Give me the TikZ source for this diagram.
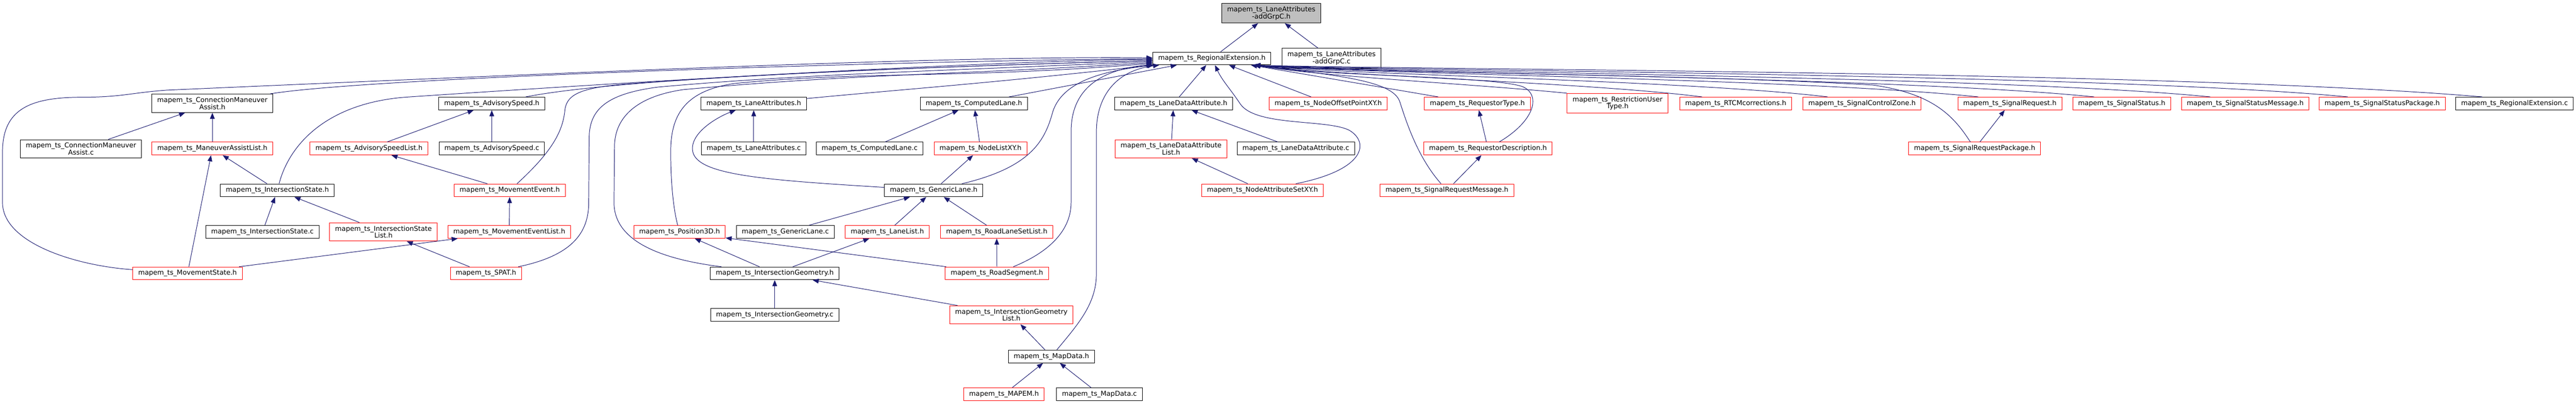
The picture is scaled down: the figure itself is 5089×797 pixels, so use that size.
\documentclass[tikz,border=0pt]{standalone}
\usepackage{fontspec}
\setmainfont{DejaVu Sans}
\usetikzlibrary{arrows.meta}
\definecolor{midnightblue}{RGB}{25,25,112}

\begin{document}
\begin{tikzpicture}[x=0.75pt, y=-0.75pt,
  file/.style={draw=black, fill=white, line width=0.75pt, inner xsep=8pt, inner ysep=4.5pt,
    minimum height=18.75pt, align=center, font=\fontsize{10}{10.5}\selectfont},
  trunc/.style={file, draw=red},
  focus/.style={file, fill=black!25},
  dep/.style={draw=midnightblue, line width=0.75pt, -{Triangle[length=9pt,width=7pt]}}]
  \useasboundingbox (0,0) rectangle (5089,797);

  \node[focus] (top) at (2511.5,26) {mapem\_ts\_LaneAttributes\\-addGrpC.h};
  \node[file] (regext) at (2394,115.5) {mapem\_ts\_RegionalExtension.h};
  \node[file] (addgrpcc) at (2630.5,115) {mapem\_ts\_LaneAttributes\\-addGrpC.c};

  \node[file] (cma) at (419.5,204) {mapem\_ts\_ConnectionManeuver\\Assist.h};
  \node[file] (advspeed) at (971.5,204.5) {mapem\_ts\_AdvisorySpeed.h};
  \node[file] (laneattr) at (1489,204.5) {mapem\_ts\_LaneAttributes.h};
  \node[file] (complane) at (1924,204.5) {mapem\_ts\_ComputedLane.h};
  \node[file] (lanedata) at (2318.5,204.5) {mapem\_ts\_LaneDataAttribute.h};
  \node[trunc] (nodeoffset) at (2624,204.5) {mapem\_ts\_NodeOffsetPointXY.h};
  \node[trunc] (reqtype) at (2918.5,204.5) {mapem\_ts\_RequestorType.h};
  \node[trunc] (restrict) at (3195.5,204) {mapem\_ts\_RestrictionUser\\Type.h};
  \node[trunc] (rtcm) at (3429,204.5) {mapem\_ts\_RTCMcorrections.h};
  \node[trunc] (sigctrl) at (3678.5,204.5) {mapem\_ts\_SignalControlZone.h};
  \node[trunc] (sigreq) at (3970.5,204.5) {mapem\_ts\_SignalRequest.h};
  \node[trunc] (sigstatus) at (4191.5,204.5) {mapem\_ts\_SignalStatus.h};
  \node[trunc] (sigstatmsg) at (4435.5,204.5) {mapem\_ts\_SignalStatusMessage.h};
  \node[trunc] (sigstatpkg) at (4706,204.5) {mapem\_ts\_SignalStatusPackage.h};
  \node[file] (regextc) at (4967.5,204.5) {mapem\_ts\_RegionalExtension.c};

  \node[file] (cmac) at (160,294) {mapem\_ts\_ConnectionManeuver\\Assist.c};
  \node[trunc] (malist) at (419.5,293.5) {mapem\_ts\_ManeuverAssistList.h};
  \node[trunc] (advlist) at (729,293.5) {mapem\_ts\_AdvisorySpeedList.h};
  \node[file] (advspeedc) at (971.5,293.5) {mapem\_ts\_AdvisorySpeed.c};
  \node[file] (laneattrc) at (1489,293.5) {mapem\_ts\_LaneAttributes.c};
  \node[file] (complanec) at (1718,293.5) {mapem\_ts\_ComputedLane.c};
  \node[trunc] (nodelist) at (1937,293.5) {mapem\_ts\_NodeListXY.h};
  \node[trunc] (lanedatalist) at (2313.5,294) {mapem\_ts\_LaneDataAttribute\\List.h};
  \node[file] (lanedatac) at (2560,293.5) {mapem\_ts\_LaneDataAttribute.c};
  \node[trunc] (reqdesc) at (2939.5,293.5) {mapem\_ts\_RequestorDescription.h};
  \node[trunc] (sigreqpkg) at (3901,293.5) {mapem\_ts\_SignalRequestPackage.h};

  \node[file] (isstate) at (548,376) {mapem\_ts\_IntersectionState.h};
  \node[trunc] (mvevent) at (1007,376) {mapem\_ts\_MovementEvent.h};
  \node[file] (genlane) at (1844.5,376) {mapem\_ts\_GenericLane.h};
  \node[trunc] (nodeattr) at (2494,376) {mapem\_ts\_NodeAttributeSetXY.h};
  \node[trunc] (sigreqmsg) at (2858.5,376) {mapem\_ts\_SignalRequestMessage.h};

  \node[file] (isstatec) at (518.5,458) {mapem\_ts\_IntersectionState.c};
  \node[trunc] (isstatelist) at (757.5,458) {mapem\_ts\_IntersectionState\\List.h};
  \node[trunc] (mveventlist) at (1006,458) {mapem\_ts\_MovementEventList.h};
  \node[trunc] (pos3d) at (1342.5,458) {mapem\_ts\_Position3D.h};
  \node[file] (genlanec) at (1551.5,458) {mapem\_ts\_GenericLane.c};
  \node[trunc] (lanelist) at (1753,458) {mapem\_ts\_LaneList.h};
  \node[trunc] (roadlaneset) at (1969,458) {mapem\_ts\_RoadLaneSetList.h};

  \node[trunc] (mvstate) at (370.5,540) {mapem\_ts\_MovementState.h};
  \node[trunc] (spat) at (960,540) {mapem\_ts\_SPAT.h};
  \node[file] (isgeom) at (1530.5,540) {mapem\_ts\_IntersectionGeometry.h};
  \node[trunc] (roadseg) at (1969.5,540) {mapem\_ts\_RoadSegment.h};

  \node[file] (isgeomc) at (1530.5,622) {mapem\_ts\_IntersectionGeometry.c};
  \node[trunc] (isgeomlist) at (1998,622) {mapem\_ts\_IntersectionGeometry\\List.h};

  \node[file] (mapdata) at (2077,704) {mapem\_ts\_MapData.h};
  \node[trunc] (mapem) at (1983.5,778.5) {mapem\_ts\_MAPEM.h};
  \node[file] (mapdatac) at (2172,778.5) {mapem\_ts\_MapData.c};

  \draw[dep] (regext) -- (top);
  \draw[dep] (addgrpcc) -- (top);
  \draw[dep] (cmac) -- (cma);
  \draw[dep] (malist) -- (cma);
  \draw[dep] (isstate) -- (malist);
  \draw[dep] (mvstate) -- (malist);
  \draw[dep] (isstatec) -- (isstate);
  \draw[dep] (isstatelist) -- (isstate);
  \draw[dep] (advspeedc) -- (advspeed);
  \draw[dep] (advlist) -- (advspeed);
  \draw[dep] (mvevent) -- (advlist);
  \draw[dep] (mveventlist) -- (mvevent);
  \draw[dep] (spat) -- (isstatelist);
  \draw[dep] (mvstate) -- (mveventlist);
  \draw[dep] (laneattrc) -- (laneattr);
  \draw[dep] (complanec) -- (complane);
  \draw[dep] (nodelist) -- (complane);
  \draw[dep] (genlane) -- (nodelist);
  \draw[dep] (genlanec) -- (genlane);
  \draw[dep] (lanelist) -- (genlane);
  \draw[dep] (roadlaneset) -- (genlane);
  \draw[dep] (lanedatalist) -- (lanedata);
  \draw[dep] (lanedatac) -- (lanedata);
  \draw[dep] (nodeattr) -- (lanedatalist);
  \draw[dep] (reqdesc) -- (reqtype);
  \draw[dep] (sigreqmsg) -- (reqdesc);
  \draw[dep] (sigreqpkg) -- (sigreq);
  \draw[dep] (roadseg) -- (roadlaneset);
  \draw[dep] (isgeom) -- (pos3d);
  \draw[dep] (roadseg) -- (pos3d);
  \draw[dep] (isgeom) -- (lanelist);
  \draw[dep] (isgeomc) -- (isgeom);
  \draw[dep] (isgeomlist) -- (isgeom);
  \draw[dep] (mapdata) -- (isgeomlist);
  \draw[dep] (mapem) -- (mapdata);
  \draw[dep] (mapdatac) -- (mapdata);
  \draw[dep] (genlane) .. controls (1500,355) and (1370,345) .. (1368,295)
    .. controls (1366,260) and (1420,230) .. (laneattr);

  \draw[dep] (mvstate) .. controls (150,525) and (5,480) .. (5,400) -- (5,300)
    .. controls (5,215) and (60,192) .. (163,192) .. controls (240,192) and (260,183) .. (330,178)
    .. controls (1200,140) and (1900,110) .. (regext);
  \draw[dep] (cma) .. controls (750,150) and (1900,118) .. (regext);
  \draw[dep] (isstate) .. controls (570,290) and (640,205) .. (800,192)
    .. controls (1200,165) and (1900,122) .. (regext);
  \draw[dep] (advspeed) .. controls (1250,150) and (1900,131) .. (regext);
  \draw[dep] (mvevent) .. controls (1090,300) and (1112,260) .. (1116,217)
    .. controls (1120,185) and (1150,172) .. (1250,165) .. controls (1600,140) and (1900,131) .. (regext);
  \draw[dep] (spat) .. controls (1130,505) and (1163,460) .. (1163,400) -- (1164,270)
    .. controls (1165,215) and (1200,185) .. (1300,172) .. controls (1600,145) and (1900,139) .. (regext);
  \draw[dep] (isgeom) .. controls (1290,510) and (1213,470) .. (1213,400) -- (1214,290)
    .. controls (1214,230) and (1260,190) .. (1350,177) .. controls (1700,145) and (1900,148) .. (regext);
  \draw[dep] (pos3d) .. controls (1332,420) and (1325,370) .. (1325,300)
    .. controls (1325,230) and (1350,180) .. (1450,165) .. controls (1700,140) and (1900,156) .. (regext);
  \draw[dep] (laneattr) .. controls (1800,175) and (1950,165) .. (regext);
  \draw[dep] (genlane) .. controls (2040,330) and (2065,275) .. (2080,220)
    .. controls (2100,160) and (2180,140) .. (regext);
  \draw[dep] (complane) -- (regext);
  \draw[dep] (roadseg) .. controls (2080,495) and (2116,450) .. (2116,400) -- (2116,260)
    .. controls (2116,195) and (2150,140) .. (regext);
  \draw[dep] (mapdata) .. controls (2130,640) and (2166,600) .. (2166,540) -- (2166,260)
    .. controls (2166,195) and (2200,140) .. (regext);

  \draw[dep] (lanedata) -- (regext);
  \draw[dep] (nodeoffset) -- (regext);
  \draw[dep] (reqtype) -- (regext);
  \draw[dep] (nodeattr) .. controls (2700,335) and (2705,280) .. (2665,257)
    .. controls (2620,235) and (2480,250) .. (2450,205) .. controls (2430,175) and (2415,160) .. (regext);
  \draw[dep] (reqdesc) .. controls (3030,240) and (3045,190) .. (3010,172)
    .. controls (2960,150) and (2600,150) .. ([xshift=-25pt]regext.south east);
  \draw[dep] (sigreqmsg) .. controls (2800,310) and (2778,240) .. (2765,200)
    .. controls (2750,160) and (2650,150) .. ([xshift=-25pt]regext.south east);
  \draw[dep] (sigreqpkg) .. controls (3860,230) and (3820,185) .. (3700,168)
    .. controls (3300,145) and (2700,145) .. ([xshift=-25pt]regext.south east);
  \draw[dep] (restrict.north west) .. controls (2900,165) and (2620,152) .. ([xshift=-25pt]regext.south east);
  \draw[dep] ([xshift=-50pt]rtcm.north) .. controls (3130,162) and (2640,150) .. ([xshift=-25pt]regext.south east);
  \draw[dep] ([xshift=-51pt]sigctrl.north) .. controls (3330,158) and (2660,148) .. ([xshift=-25pt]regext.south east);
  \draw[dep] ([xshift=-47pt]sigreq.north) .. controls (3560,155) and (2680,146) .. ([xshift=-25pt]regext.south east);
  \draw[dep] ([xshift=-41pt]sigstatus.north) .. controls (3750,152) and (2700,144) .. ([xshift=-25pt]regext.south east);
  \draw[dep] ([xshift=-52pt]sigstatmsg.north) .. controls (3950,150) and (2720,142) .. ([xshift=-25pt]regext.south east);
  \draw[dep] ([xshift=-51pt]sigstatpkg.north) .. controls (4150,145) and (2750,140) .. ([xshift=-25pt]regext.south east);
  \draw[dep] ([xshift=-48pt]regextc.north) .. controls (4300,140) and (2800,138) .. ([xshift=-25pt]regext.south east);
\end{tikzpicture}
\end{document}
